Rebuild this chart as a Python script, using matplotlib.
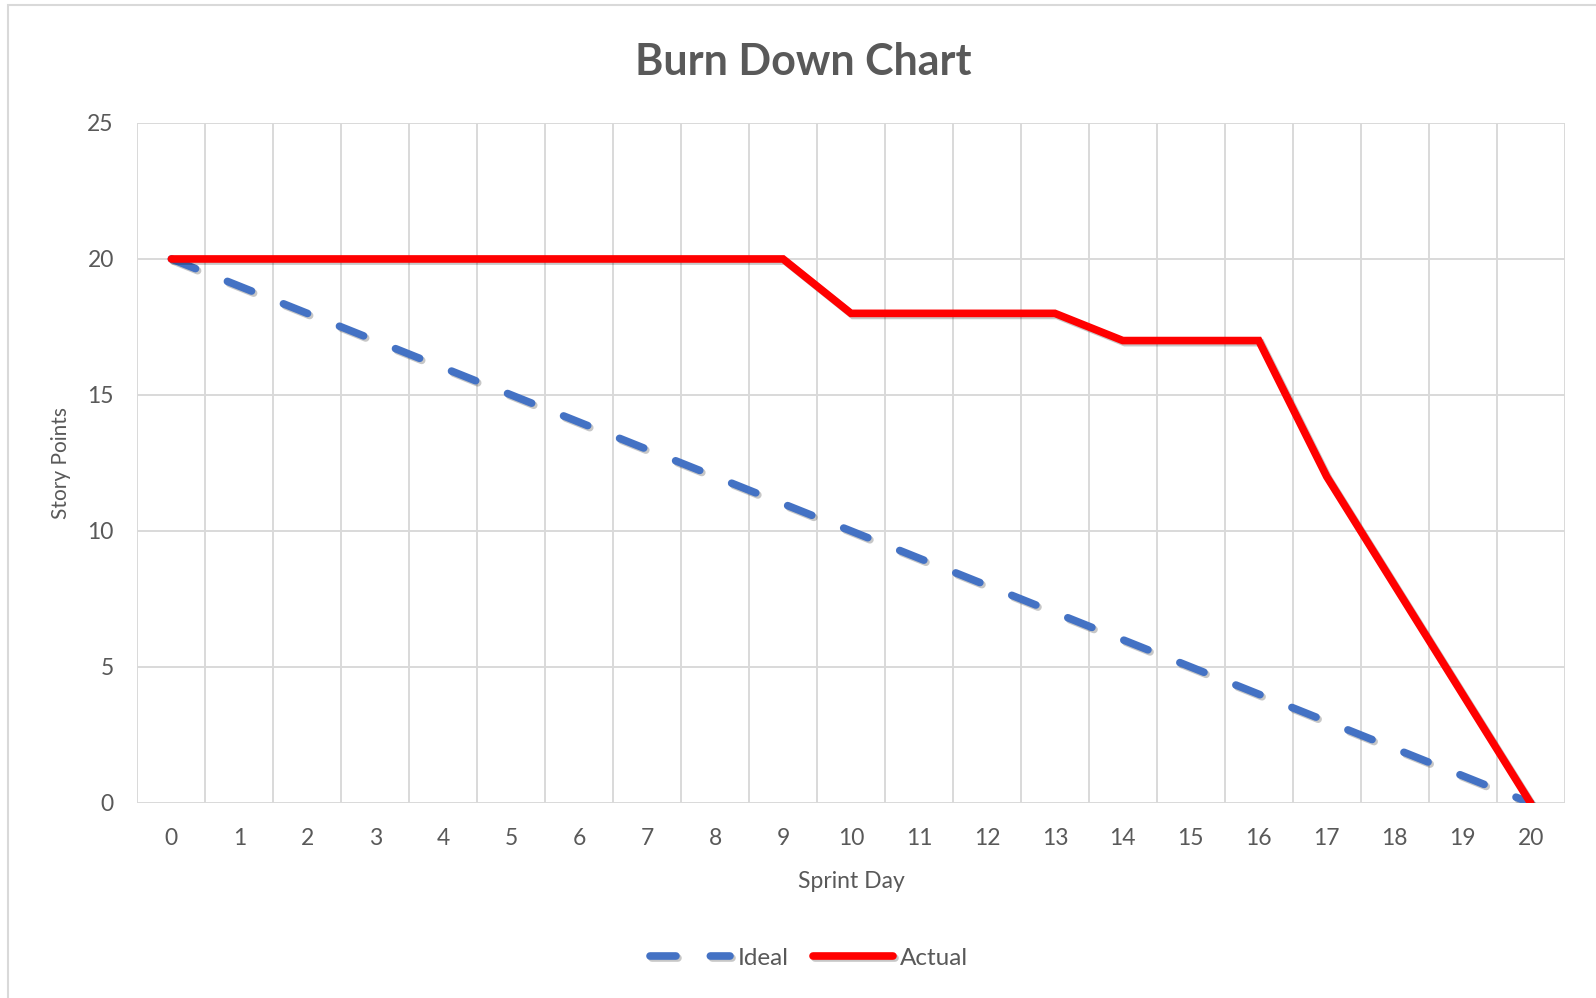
import matplotlib.pyplot as plt
import matplotlib.patheffects as pe
from matplotlib.patches import Rectangle
import numpy as np

# Burn down data (story points remaining per sprint day)
days = list(range(0, 21))
ideal = [20, 19, 18, 17, 16, 15, 14, 13, 12, 11, 10, 9, 8, 7, 6, 5, 4, 3, 2, 1, 0]
actual = [20, 20, 20, 20, 20, 20, 20, 20, 20, 20, 18, 18, 18, 18, 17, 17, 17, 12, 8, 4, 0]
y_ticks = [0, 5, 10, 15, 20, 25]

plt.rcParams['font.family'] = ['Lato', 'DejaVu Sans']
text_col = '#595959'
grid_col = '#d9d9d9'

fig = plt.figure(figsize=(15.96, 9.98), dpi=100)
ax = fig.add_axes([0.0861, 0.1954, 0.8942, 0.6814])

# chart area border
fig.patches.append(Rectangle((0.005, -0.01), 1.2, 1.005, transform=fig.transFigure,
                             fill=False, edgecolor='#d9d9d9', linewidth=1.5))

shadow = [pe.SimpleLineShadow(offset=(1.5, -1.5), alpha=0.22, shadow_color='k'), pe.Normal()]

ax.plot(days, ideal, color='#4472c4', linewidth=5.5, dashes=(3.4, 4.5),
        dash_capstyle='round', solid_capstyle='round', label='Ideal', path_effects=shadow)
ax.plot(days, actual, color='#ff0000', linewidth=5.5, solid_capstyle='round',
        solid_joinstyle='miter', label='Actual', path_effects=shadow)

ax.set_xlim(-0.5, 20.5)
ax.set_ylim(0, 25)
ax.set_xticks(days)
ax.set_xticklabels([str(d) for d in days])
ax.set_yticks(y_ticks)

# vertical gridlines sit between categories
for xb in np.arange(-0.5, 21, 1.0):
    ax.axvline(xb, color=grid_col, linewidth=1.4, zorder=0)
for yv in y_ticks:
    ax.axhline(yv, color=grid_col, linewidth=1.4, zorder=0)

for s in ax.spines.values():
    s.set_visible(False)
ax.tick_params(axis='both', length=0, labelsize=16.5, labelcolor=text_col)
ax.tick_params(axis='x', pad=18)
ax.tick_params(axis='y', pad=17)

ax.set_xlabel('Sprint Day', fontsize=16.5, color=text_col, labelpad=16)
ax.set_ylabel('Story Points', fontsize=15, color=text_col, labelpad=12)

fig.suptitle('Burn Down Chart', fontsize=31, fontweight='bold', color=text_col, x=0.503, y=0.958)

leg = fig.legend(loc='center', bbox_to_anchor=(0.507, 0.04), ncol=2, frameon=False,
                 fontsize=17.5, handlelength=3.3, handletextpad=0.3, columnspacing=1.0)
for t in leg.get_texts():
    t.set_color(text_col)

plt.savefig('out.png', dpi=100)
